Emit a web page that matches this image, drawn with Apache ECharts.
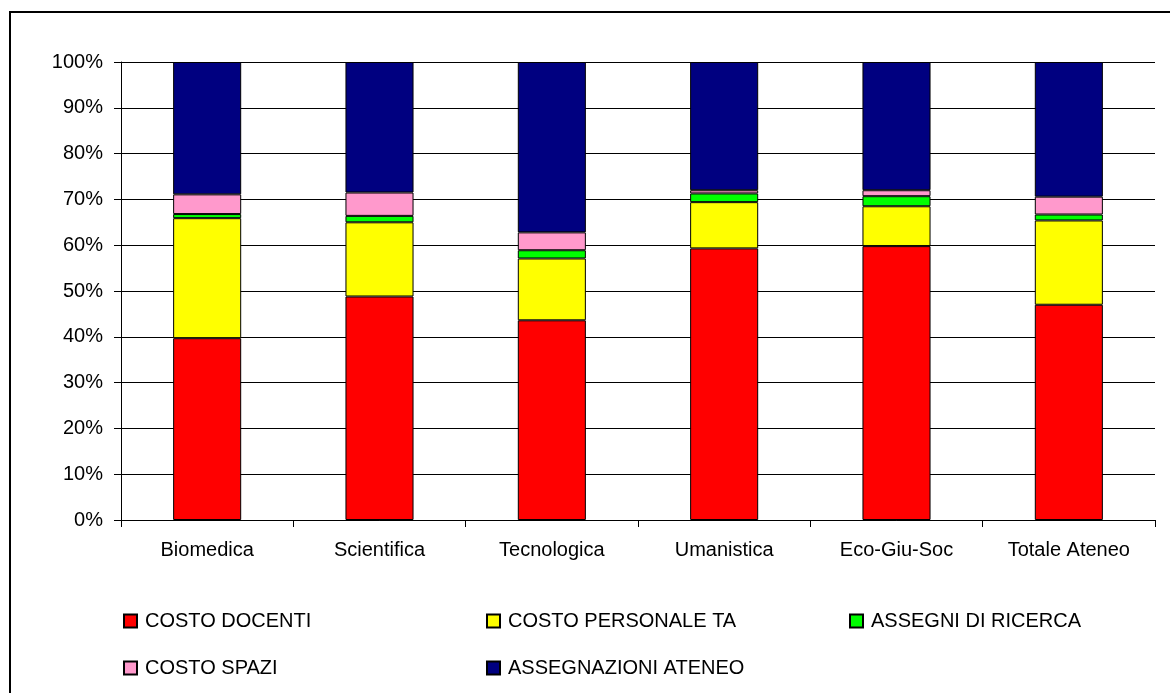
<!DOCTYPE html>
<html>
<head>
<meta charset="utf-8">
<script src="https://cdn.jsdelivr.net/npm/echarts@6/dist/echarts.min.js"></script>
<style>
  html, body { margin: 0; padding: 0; background: #fff; }
  #chart { width: 1170px; height: 693px; }
</style>
</head>
<body>
<div id="chart"></div>
<script>
// Faculties on the x axis
const categories = ['Biomedica', 'Scientifica', 'Tecnologica', 'Umanistica', 'Eco-Giu-Soc', 'Totale Ateneo'];

// Share of each cost item per faculty (%)
const costoDocenti       = [39.7, 48.8, 43.6, 59.3, 59.8, 47.0];
const costoPersonaleTA   = [26.2, 16.2, 13.5, 10.1,  8.7, 18.4];
const assegniRicerca     = [ 0.9,  1.4,  1.8,  1.9,  2.2,  1.3];
const costoSpazi         = [ 4.3,  5.1,  3.9,  0.7,  1.3,  3.9];
const assegnazioniAteneo = [28.9, 28.5, 37.2, 28.0, 28.0, 29.4];

const yTicks = { min: 0, max: 100, step: 10 };

const FONT = "'Liberation Sans', Arial, sans-serif";

const seriesDefs = [
  { name: 'COSTO DOCENTI',        data: costoDocenti,       color: '#FF0000' },
  { name: 'COSTO PERSONALE TA',   data: costoPersonaleTA,   color: '#FFFF00' },
  { name: 'ASSEGNI DI RICERCA',   data: assegniRicerca,     color: '#00FF00' },
  { name: 'COSTO SPAZI',          data: costoSpazi,         color: '#FF99CC' },
  { name: 'ASSEGNAZIONI ATENEO',  data: assegnazioniAteneo, color: '#000080' }
];

// Legend laid out as a 3-column grid, two rows
const legendPos = [
  { left: 123, top: 611 },
  { left: 486, top: 611 },
  { left: 849, top: 611 },
  { left: 123, top: 658 },
  { left: 486, top: 658 }
];

const chart = echarts.init(document.getElementById('chart'), null, { renderer: 'canvas' });

chart.setOption({
  backgroundColor: '#ffffff',
  animation: false,
  textStyle: { fontFamily: FONT, color: '#000' },
  graphic: [{
    type: 'rect',
    silent: true,
    shape: { x: 10, y: 12, width: 1200, height: 720 },
    style: { fill: 'none', stroke: '#000', lineWidth: 2 }
  }],
  grid: { left: 121, right: 15, top: 62, bottom: 173, containLabel: false },
  legend: seriesDefs.map((s, i) => ({
    data: [s.name],
    left: legendPos[i].left,
    top: legendPos[i].top,
    padding: 0,
    itemWidth: 13,
    itemHeight: 13,
    icon: 'rect',
    selectedMode: false,
    textStyle: { fontFamily: FONT, fontSize: 20, color: '#000', padding: [0, 0, 0, 3] }
  })),
  xAxis: {
    type: 'category',
    data: categories,
    boundaryGap: true,
    axisLine: { show: true, lineStyle: { color: '#000', width: 1 } },
    axisTick: { show: true, alignWithLabel: false, length: 7, lineStyle: { color: '#000' } },
    axisLabel: { fontFamily: FONT, fontSize: 20, color: '#000', margin: 20, interval: 0 },
    splitLine: { show: false }
  },
  yAxis: {
    type: 'value',
    min: yTicks.min,
    max: yTicks.max,
    interval: yTicks.step,
    axisLine: { show: true, lineStyle: { color: '#000', width: 1 } },
    axisTick: { show: true, length: 7, lineStyle: { color: '#000' } },
    axisLabel: { fontFamily: FONT, fontSize: 20, color: '#000', margin: 18, formatter: '{value}%' },
    splitLine: { show: true, lineStyle: { color: '#000', width: 1 } }
  },
  series: seriesDefs.map(s => ({
    name: s.name,
    type: 'bar',
    stack: 'total',
    barWidth: '39.5%',
    data: s.data,
    itemStyle: { color: s.color, borderColor: '#000', borderWidth: 1 },
    emphasis: { disabled: true }
  }))
});
</script>
</body>
</html>
